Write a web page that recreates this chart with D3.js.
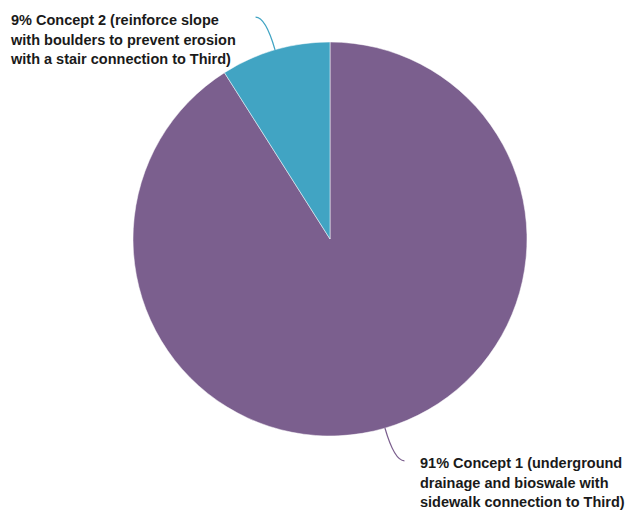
<!DOCTYPE html>
<html><head><meta charset="utf-8">
<script src="https://cdn.jsdelivr.net/npm/d3@7"></script>
<style>body{margin:0;background:#fff}svg{display:block}</style>
</head><body>
<svg id="c" width="630" height="510"></svg>
<script>
const categories = ["Concept 1", "Concept 2"];
const values = [91, 9];
const labelLines = [
  ["91% Concept 1 (underground", "drainage and bioswale with", "sidewalk connection to Third)"],
  ["9% Concept 2 (reinforce slope", "with boulders to prevent erosion", "with a stair connection to Third)"]
];
const colors = ["#7b5f8e", "#41a4c3"];

const W = 630, H = 510, cx = 330, cy = 239, R = 197;
const svg = d3.select("#c");
const g = svg.append("g").attr("transform", `translate(${cx},${cy})`);
const data = categories.map((c, i) => ({ c, v: values[i], i }));
const pie = d3.pie().value(d => d.v).sort(null);
const arcs = pie(data);
const arc = d3.arc().innerRadius(0).outerRadius(R);
const color = d3.scaleOrdinal().domain(categories).range(colors);

g.selectAll("path.slice").data(arcs).join("path")
  .attr("class", "slice")
  .attr("d", arc)
  .attr("fill", d => color(d.data.c))
  .attr("stroke", "#fff").attr("stroke-width", 0.5);

// leader lines
const ext = 33, hook = 10;
arcs.forEach(a => {
  const mid = (a.startAngle + a.endAngle) / 2;
  const sx = Math.sin(mid), sy = -Math.cos(mid);
  const p0 = [sx * R, sy * R];
  const p1 = [sx * (R + ext * 1.03), sy * (R + ext * 1.03)];
  const side = sx >= 0 ? 1 : -1;
  const p2 = [p1[0] + side * hook, p1[1]];
  const path = d3.path();
  path.moveTo(p0[0], p0[1]);
  path.quadraticCurveTo(p1[0], p1[1], p2[0], p2[1]);
  g.append("path").attr("d", path.toString())
    .attr("fill", "none").attr("stroke", color(a.data.c)).attr("stroke-width", 1.3);
});

// labels
const font = "Liberation Sans, Arial, Helvetica, sans-serif";
const lh = 19.5;
const labelPos = [
  { x: 420, y: 468 },
  { x: 11, y: 25 }
];
arcs.forEach((a, i) => {
  const t = svg.append("text")
    .attr("x", labelPos[i].x).attr("y", labelPos[i].y)
    .attr("font-family", font).attr("font-size", 14.5).attr("font-weight", "bold")
    .attr("fill", "#1a1a1a");
  labelLines[a.data.i].forEach((ln, k) => {
    t.append("tspan").attr("x", labelPos[i].x).attr("y", labelPos[i].y + k * lh).text(ln);
  });
});
</script>
</body></html>
